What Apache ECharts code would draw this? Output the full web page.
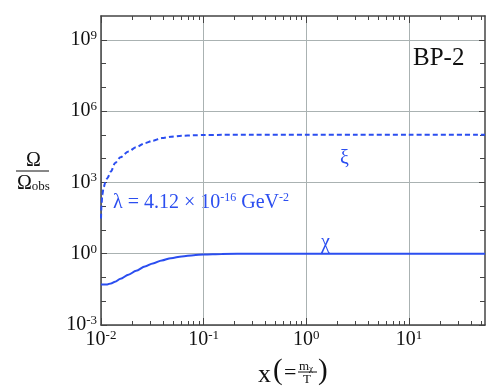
<!DOCTYPE html>
<html>
<head>
<meta charset="utf-8">
<script src="https://cdn.jsdelivr.net/npm/echarts@6/dist/echarts.min.js"></script>
<style>
  html, body { margin: 0; background: #fff; }
  #chart { width: 491px; height: 392px; }
</style>
</head>
<body>
<div id="chart"></div>
<script>
// xi (dashed) curve
const xiX = [0.01, 0.0101, 0.0103, 0.0106, 0.011, 0.0115, 0.0125, 0.0137, 0.0155, 0.0185, 0.022, 0.0268, 0.032, 0.0391, 0.048, 0.0612, 0.08, 0.1, 0.15, 0.3, 1, 3, 10, 55];
const xiY = [30, 100, 300, 600, 1000, 1500, 2900, 6500, 11500, 20000, 30000, 45000, 57000, 73000, 83000, 91000, 96000, 98000, 100000, 100000, 100000, 100000, 100000, 100000];
// chi (solid) curve
const chiX = [0.01, 0.0108, 0.0115, 0.0125, 0.0137, 0.0155, 0.0185, 0.022, 0.0268, 0.032, 0.0391, 0.048, 0.0612, 0.08, 0.1, 0.15, 0.3, 1, 10, 55];
const chiY = [0.05, 0.05, 0.051, 0.056, 0.066, 0.088, 0.13, 0.19, 0.29, 0.39, 0.52, 0.65, 0.77, 0.87, 0.93, 0.98, 1.0, 1.0, 1.0, 1.0];

const xMajor = [0.01, 0.1, 1, 10];
const xMinor = [0.02, 0.03, 0.04, 0.05, 0.06, 0.07, 0.08, 0.09, 0.2, 0.3, 0.4, 0.5, 0.6, 0.7, 0.8, 0.9, 2, 3, 4, 5, 6, 7, 8, 9, 20, 30, 40, 50];
const yMajor = [1e-3, 1, 1e3, 1e6, 1e9];
const yMinor = [1e-2, 1e-1, 10, 100, 1e4, 1e5, 1e7, 1e8];

const blue = '#2b4ef0';
const serif = 'Liberation Serif';
const X_MIN = 0.01, X_MAX = 55, Y_MIN = 1e-3, Y_MAX = 1e10;

const powLabel = (v) => '{b|10}{s|' + Math.round(Math.log10(v)) + '}';
const powRich = {
  b: { fontSize: 20, fontFamily: serif, color: '#111' },
  s: { fontSize: 13, fontFamily: serif, color: '#111', padding: [0, 0, 9, 0] }
};
const tickColor = { color: '#444' };
const axisLine = { show: true, lineStyle: { color: '#444', width: 1.5 } };
const gridLine = { show: true, lineStyle: { color: '#aab2b2', width: 1 } };
const plotRect = { left: 101, right: 6, top: 16, bottom: 67 };

// tick-only axis helper (no line, no labels, no grid)
function tickAxis(type, grid, position, min, max, ticks, len, showLine) {
  return {
    type, gridIndex: grid, position, min, max,
    axisLine: showLine ? axisLine : { show: false },
    axisTick: { inside: true, length: len, customValues: ticks, lineStyle: tickColor },
    axisLabel: { show: false }, splitLine: { show: false }
  };
}

const chart = echarts.init(document.getElementById('chart'));
chart.setOption({
  animation: false,
  grid: [Object.assign({}, plotRect), Object.assign({}, plotRect)],
  xAxis: [
    {
      type: 'log', gridIndex: 0, min: X_MIN, max: X_MAX, position: 'bottom',
      axisLine,
      axisTick: { inside: true, length: 7, customValues: xMajor, lineStyle: tickColor },
      axisLabel: { customValues: xMajor, formatter: powLabel, rich: powRich, margin: 4 },
      splitLine: gridLine
    },
    tickAxis('log', 0, 'top', X_MIN, X_MAX, xMajor, 7, true),
    tickAxis('log', 1, 'bottom', X_MIN, X_MAX, xMinor, 4, false),
    tickAxis('log', 1, 'top', X_MIN, X_MAX, xMinor, 4, false)
  ],
  yAxis: [
    {
      type: 'log', gridIndex: 0, min: Y_MIN, max: Y_MAX, position: 'left',
      axisLine,
      axisTick: { inside: true, length: 6, customValues: yMajor, lineStyle: tickColor },
      axisLabel: { customValues: yMajor, formatter: powLabel, rich: powRich, margin: 4 },
      splitLine: gridLine
    },
    tickAxis('log', 0, 'right', Y_MIN, Y_MAX, yMajor, 6, true),
    tickAxis('log', 1, 'left', Y_MIN, Y_MAX, yMinor, 5, false),
    tickAxis('log', 1, 'right', Y_MIN, Y_MAX, yMinor, 5, false)
  ],
  series: [
    {
      name: 'xi', type: 'line', xAxisIndex: 0, yAxisIndex: 0,
      data: xiX.map((x, i) => [x, xiY[i]]),
      showSymbol: false, smooth: 0.3, smoothMonotone: 'x',
      lineStyle: { color: blue, width: 2, type: [5, 3] }
    },
    {
      name: 'chi', type: 'line', xAxisIndex: 0, yAxisIndex: 0,
      data: chiX.map((x, i) => [x, chiY[i]]),
      showSymbol: false, smooth: 0.3, smoothMonotone: 'x',
      lineStyle: { color: blue, width: 2 }
    }
  ],
  graphic: [
    { type: 'text', left: 413, top: 46, style: { text: 'BP-2', font: '25px "Liberation Serif"', fill: '#111' } },
    { type: 'text', left: 340, top: 149, style: { text: 'ξ', font: '20px "Liberation Serif"', fill: blue } },
    { type: 'text', left: 321, top: 233, style: { text: 'χ', font: '20px "Liberation Serif"', fill: blue } },
    {
      type: 'text', left: 113, top: 192,
      style: {
        text: '{a|λ = 4.12 × 10}{s|-16}{a| GeV}{s|-2}',
        rich: {
          a: { fontSize: 20, fontFamily: serif, fill: blue },
          s: { fontSize: 12, fontFamily: serif, fill: blue, padding: [0, 0, 9, 0] }
        }
      }
    },
    // y-axis name: Omega / Omega_obs
    { type: 'text', left: 26, top: 151, style: { text: 'Ω', font: '20px "Liberation Serif"', fill: '#111' } },
    { type: 'line', shape: { x1: 16, y1: 171, x2: 49, y2: 171 }, style: { stroke: '#111', lineWidth: 1 } },
    {
      type: 'text', left: 17, top: 174,
      style: {
        text: '{a|Ω}{s|obs}',
        rich: {
          a: { fontSize: 20, fontFamily: serif, fill: '#111' },
          s: { fontSize: 13, fontFamily: serif, fill: '#111', padding: [6, 0, 0, 0] }
        }
      }
    },
    // x-axis name: x (= m_chi / T)
    { type: 'text', left: 258, top: 362, style: { text: 'x', font: '26px "Liberation Serif"', fill: '#111' } },
    { type: 'text', left: 273, top: 357, style: { text: '(', font: '29px "Liberation Serif"', fill: '#111' } },
    { type: 'text', left: 284, top: 362, style: { text: '=', font: '22px "Liberation Serif"', fill: '#111' } },
    {
      type: 'text', left: 299, top: 360,
      style: {
        text: '{a|m}{s|χ}',
        rich: {
          a: { fontSize: 13, fontFamily: serif, fill: '#111' },
          s: { fontSize: 9, fontFamily: serif, fill: '#111', padding: [4, 0, 0, 0] }
        }
      }
    },
    { type: 'line', shape: { x1: 298, y1: 372, x2: 317, y2: 372 }, style: { stroke: '#111', lineWidth: 1 } },
    { type: 'text', left: 303, top: 373, style: { text: 'T', font: '13px "Liberation Serif"', fill: '#111' } },
    { type: 'text', left: 318, top: 357, style: { text: ')', font: '29px "Liberation Serif"', fill: '#111' } }
  ]
});
</script>
</body>
</html>
